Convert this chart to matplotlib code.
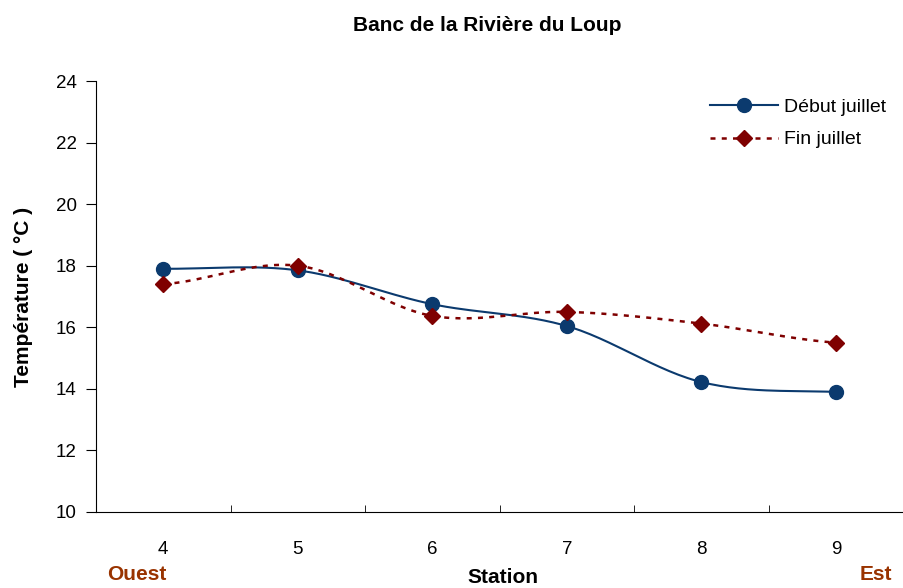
import numpy as np
import matplotlib.pyplot as plt

plt.rcParams['font.family'] = ['Liberation Sans', 'DejaVu Sans']

stations = ['4', '5', '6', '7', '8', '9']
debut_juillet = [17.9, 17.85, 16.75, 16.04, 14.22, 13.9]
fin_juillet = [17.4, 18.0, 16.37, 16.5, 16.12, 15.5]
y_ticks = [10, 12, 14, 16, 18, 20, 22, 24]


def smooth(x, y, n=30):
    # courbe lissée façon Excel (Catmull-Rom)
    x = np.asarray(x, float)
    y = np.asarray(y, float)
    px = np.concatenate([[2 * x[0] - x[1]], x, [2 * x[-1] - x[-2]]])
    py = np.concatenate([[y[0]], y, [y[-1]]])
    xs, ys = [], []
    t = np.linspace(0, 1, n)
    for i in range(1, len(px) - 2):
        for p, out in ((px, xs), (py, ys)):
            p0, p1, p2, p3 = p[i - 1], p[i], p[i + 1], p[i + 2]
            c1 = p1 + (p2 - p0) / 6
            c2 = p2 - (p3 - p1) / 6
            out.extend((1 - t) ** 3 * p1 + 3 * (1 - t) ** 2 * t * c1
                       + 3 * (1 - t) * t ** 2 * c2 + t ** 3 * p2)
    return xs, ys


fig = plt.figure(figsize=(9.04, 5.88), dpi=100)
ax = fig.add_axes([0.1062, 0.1293, 0.893, 0.7329])

x = np.arange(len(stations))
blue = '#0b3a6e'
red = '#7f0000'

sx, sy = smooth(x, debut_juillet)
ax.plot(sx, sy, color=blue, lw=1.5)
ax.plot(x, debut_juillet, 'o', color=blue, ms=10)
sx, sy = smooth(x, fin_juillet)
ax.plot(sx, sy, color=red, lw=1.8, ls=(0, (2, 2.5)))
ax.plot(x, fin_juillet, 'D', color=red, ms=8.5)

# légende
ax.plot([], [], 'o-', color=blue, lw=1.5, ms=10, label='Début juillet')
ax.plot([], [], 'D', color=red, lw=1.8, ls=(0, (2, 2.5)), ms=8.5, label='Fin juillet')
h, l = ax.get_legend_handles_labels()
ax.legend(h[-2:], l[-2:], loc='upper right', bbox_to_anchor=(1.0, 1.0),
          frameon=False, fontsize=14, handlelength=3.5, handletextpad=0.3,
          labelspacing=0.75)

ax.set_xlim(-0.5, len(stations) - 0.5)
ax.set_ylim(10, 24)
ax.set_yticks(y_ticks)
ax.set_xticks(x)
ax.set_xticklabels(stations)
ax.set_xticks(np.arange(len(stations) + 1) - 0.5, minor=True)
ax.tick_params(axis='x', which='major', length=0, pad=21, labelsize=13.5)
ax.tick_params(axis='x', which='minor', length=5, direction='in')
ax.tick_params(axis='y', length=7, direction='out', labelsize=13.5, pad=7)
ax.spines['top'].set_visible(False)
ax.spines['right'].set_visible(False)

ax.set_ylabel('Température ( °C )', fontsize=15, fontweight='bold', labelpad=16)
fig.text(0.556, 0.008, 'Station', ha='center', fontsize=15, fontweight='bold')
fig.text(0.118, 0.013, 'Ouest', fontsize=15, fontweight='bold', color='#993300')
fig.text(0.951, 0.013, 'Est', fontsize=15, fontweight='bold', color='#993300')
fig.text(0.539, 0.948, 'Banc de la Rivière du Loup', ha='center',
         fontsize=15, fontweight='bold')

fig.savefig('out.png', dpi=100)
